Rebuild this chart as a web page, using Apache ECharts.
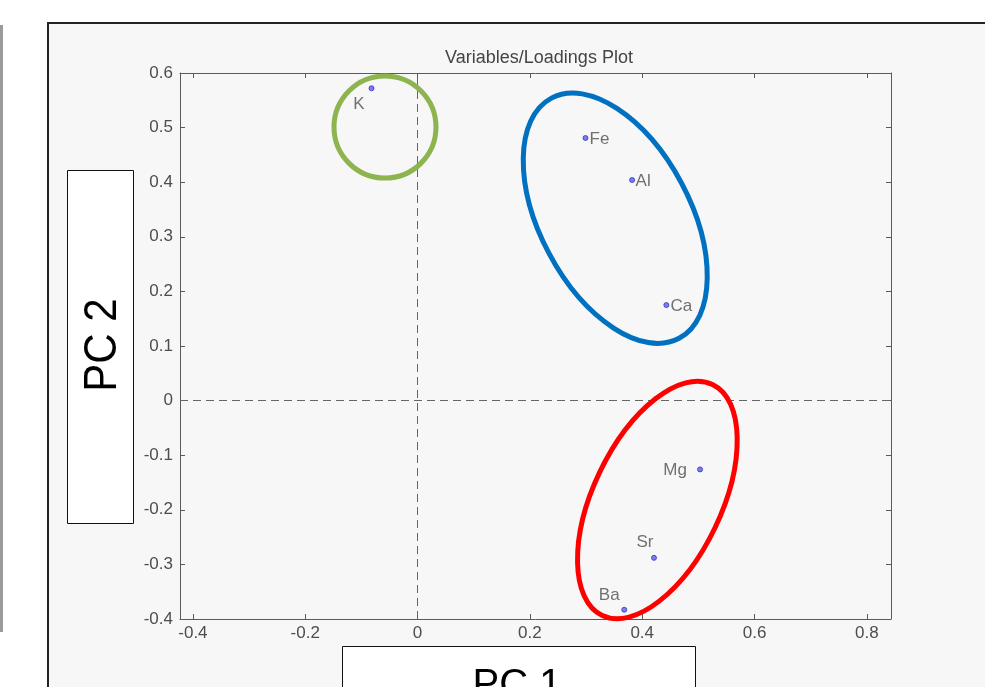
<!DOCTYPE html>
<html>
<head>
<meta charset="utf-8">
<script src="https://cdn.jsdelivr.net/npm/echarts@6/dist/echarts.min.js"></script>
<style>html,body{margin:0;padding:0;background:#fff;}#c{width:985px;height:687px;}</style>
</head>
<body>
<div id="c"></div>
<script>
// ---- data ----
const varNames = ['K', 'Fe', 'Al', 'Ca', 'Mg', 'Sr', 'Ba'];
const pc1 = [-0.082, 0.299, 0.382, 0.443, 0.503, 0.421, 0.368];
const pc2 = [0.572, 0.481, 0.404, 0.175, -0.126, -0.288, -0.383];
const xTicks = [-0.4, -0.2, 0, 0.2, 0.4, 0.6, 0.8];
const yTicks = [-0.4, -0.3, -0.2, -0.1, 0, 0.1, 0.2, 0.3, 0.4, 0.5, 0.6];
const groupNames = ['green', 'blue', 'red'];
const groupCx = [-0.058, 0.352, 0.427];
const groupCy = [0.501, 0.334, -0.182];

// ---- styles ----
const labelOffset = {
  K:  [-12.5, 16.5],
  Fe: [14, 1],
  Al: [11, 1.5],
  Ca: [15, 1],
  Mg: [-25, 1],
  Sr: [-9, -16],
  Ba: [-15, -14]
};
const ellipseStyle = {
  green: {rx: 51, ry: 51, rot: 0, color: '#8db44e'},
  blue:  {rx: 136, ry: 75, rot: -62, color: '#0070c0'},
  red:   {rx: 128, ry: 64, rot: 64.5, color: '#ff0000'}
};

const fmt = v => (Math.abs(v) < 1e-9 ? '0' : String(+(+v).toFixed(1)));
const axisCol = '#5a5a5a';
const txtCol = '#4d4d4d';
const font = 'Arial, "Liberation Sans", Helvetica, sans-serif';

const pts = varNames.map((n, i) => ({
  value: [pc1[i], pc2[i]],
  name: n,
  label: {show: true, formatter: n, position: 'inside', offset: labelOffset[n],
          color: txtCol, fontSize: 17, fontFamily: font}
}));

const chart = echarts.init(document.getElementById('c'), null, {renderer: 'canvas'});
const xMin = -0.423, xMax = 0.843;
const commonX = {
  type: 'value', min: xMin, max: xMax, splitLine: {show: false},
  axisLine: {show: true, onZero: false, lineStyle: {color: axisCol, width: 1}},
  axisTick: {show: true, inside: true, length: 5, lineStyle: {color: axisCol}, customValues: xTicks}
};
const commonY = {
  type: 'value', min: -0.4, max: 0.6, interval: 0.1, splitLine: {show: false},
  axisLine: {show: true, onZero: false, lineStyle: {color: axisCol, width: 1}},
  axisTick: {show: true, inside: true, length: 5, lineStyle: {color: axisCol}}
};

chart.setOption({
  backgroundColor: '#ffffff',
  animation: false,
  title: {
    text: 'Variables/Loadings Plot', left: 534, top: 44, textAlign: 'center',
    textStyle: {fontSize: 18, fontWeight: 'normal', color: '#444', fontFamily: font}
  },
  grid: {left: 180, right: 94, top: 73, bottom: 68, containLabel: false},
  xAxis: [
    Object.assign({}, commonX, {
      position: 'bottom',
      axisLabel: {show: true, color: txtCol, fontSize: 17, fontFamily: font, margin: 6,
                  formatter: fmt, customValues: xTicks}
    }),
    Object.assign({}, commonX, {position: 'top', axisLabel: {show: false}})
  ],
  yAxis: [
    Object.assign({}, commonY, {
      position: 'left',
      axisLabel: {show: true, color: txtCol, fontSize: 17, fontFamily: font, margin: 7, formatter: fmt}
    }),
    Object.assign({}, commonY, {position: 'right', axisLabel: {show: false}})
  ],
  graphic: [
    {type: 'rect', z: -10, silent: true, shape: {x: 0, y: 25, width: 3, height: 607}, style: {fill: '#9a9a9a'}},
    {type: 'rect', z: -10, silent: true, shape: {x: 48, y: 23, width: 945, height: 700},
     style: {fill: '#f7f7f7', stroke: '#222', lineWidth: 2}},
    {type: 'rect', z: 10, silent: true, shape: {x: 67.5, y: 170.5, width: 66, height: 353},
     style: {fill: '#ffffff', stroke: '#111', lineWidth: 1}},
    {type: 'text', z: 11, silent: true, x: 103, y: 345, rotation: Math.PI / 2, scaleY: 1.12,
     style: {text: 'PC 2', fontSize: 42, fontFamily: font, fill: '#000', align: 'center', verticalAlign: 'middle'}},
    {type: 'rect', z: 10, silent: true, shape: {x: 342.5, y: 646.5, width: 353, height: 60},
     style: {fill: '#ffffff', stroke: '#111', lineWidth: 1}},
    {type: 'text', z: 11, silent: true, x: 517, y: 666,
     style: {text: 'PC 1', fontSize: 40, fontFamily: font, fill: '#000', align: 'center', verticalAlign: 'top'}}
  ],
  series: [
    {
      type: 'scatter', xAxisIndex: 0, yAxisIndex: 0, z: 5,
      symbol: 'circle', symbolSize: 5,
      itemStyle: {color: '#5c5cf0', borderColor: '#3434b8', borderWidth: 1},
      data: pts,
      markLine: {
        silent: true, symbol: 'none', label: {show: false},
        lineStyle: {type: [8, 5], color: '#666', width: 1},
        data: [{xAxis: 0}, {yAxis: 0}]
      }
    },
    {
      type: 'custom', xAxisIndex: 0, yAxisIndex: 0, z: 6, silent: true,
      data: groupNames.map((g, i) => [groupCx[i], groupCy[i], g]),
      renderItem: function (params, api) {
        const c = api.coord([api.value(0), api.value(1)]);
        const s = ellipseStyle[groupNames[params.dataIndex]];
        return {
          type: 'ellipse', x: c[0], y: c[1], rotation: s.rot * Math.PI / 180,
          shape: {cx: 0, cy: 0, rx: s.rx, ry: s.ry},
          style: {fill: 'none', stroke: s.color, lineWidth: 5}
        };
      }
    }
  ]
});
</script>
</body>
</html>
